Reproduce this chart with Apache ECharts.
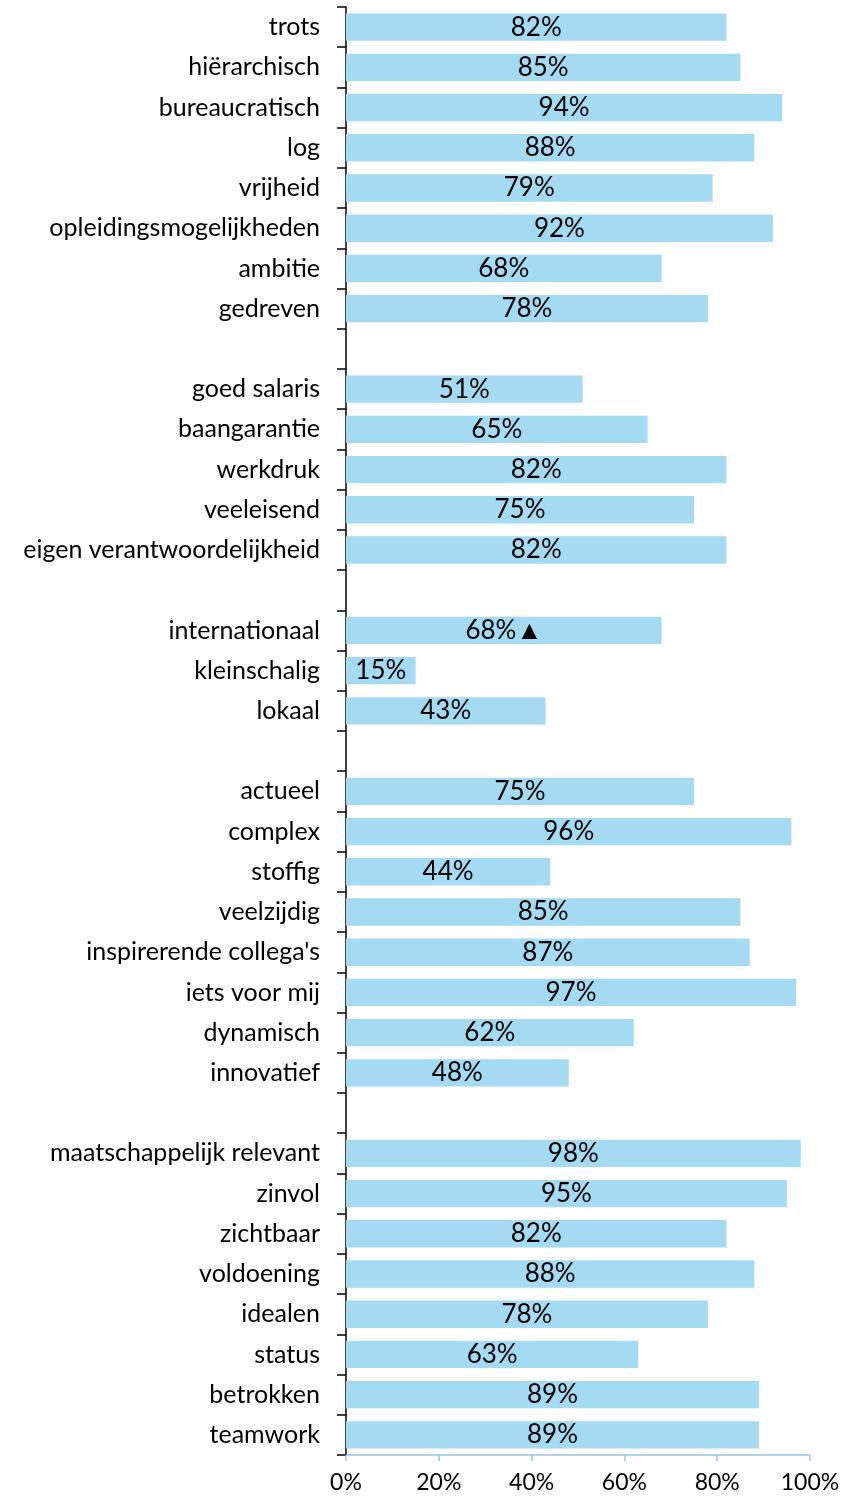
<!DOCTYPE html>
<html>
<head>
<meta charset="utf-8">
<script src="https://cdn.jsdelivr.net/npm/echarts@6/dist/echarts.min.js"></script>
<style>
  html, body { margin: 0; padding: 0; background: #fff; }
  #chartContainer { width: 846px; height: 1497px; }
</style>
</head>
<body>
<div id="chartContainer"></div>
<script>
// lege categorieen ('' ) zijn de witregels tussen de groepen
const categories = [
    'trots', 'hiërarchisch', 'bureaucratisch', 'log', 'vrijheid', 'opleidingsmogelijkheden', 'ambitie', 'gedreven',
    '',
    'goed salaris', 'baangarantie', 'werkdruk', 'veeleisend', 'eigen verantwoordelijkheid',
    '',
    'internationaal', 'kleinschalig', 'lokaal',
    '',
    'actueel', 'complex', 'stoffig', 'veelzijdig', "inspirerende collega's", 'iets voor mij', 'dynamisch', 'innovatief',
    '',
    'maatschappelijk relevant', 'zinvol', 'zichtbaar', 'voldoening', 'idealen', 'status', 'betrokken', 'teamwork'
];
const values = [
    82, 85, 94, 88, 79, 92, 68, 78,
    null,
    51, 65, 82, 75, 82,
    null,
    68, 15, 43,
    null,
    75, 96, 44, 85, 87, 97, 62, 48,
    null,
    98, 95, 82, 88, 78, 63, 89, 89
];
const markedUp = ['internationaal'];
const xTicks = [0, 20, 40, 60, 80, 100];

const fontName = 'Lato';
const chart = echarts.init(document.getElementById('chartContainer'), null, {renderer: 'canvas'});
const option = {
    animation: false,
    grid: {
        left: 346,
        right: 36,
        top: 7,
        bottom: 42,
        containLabel: false
    },
    xAxis: {
        type: 'value',
        min: xTicks[0],
        max: xTicks[xTicks.length - 1],
        interval: 20,
        splitLine: {show: false},
        axisLine: {show: true, lineStyle: {color: '#9cc2e5', width: 1.5}},
        axisTick: {show: true, length: 6, lineStyle: {color: '#9cc2e5', width: 1.5}},
        axisLabel: {
            formatter: '{value}%',
            color: '#000',
            fontSize: 23,
            fontFamily: fontName,
            margin: 16
        }
    },
    yAxis: {
        type: 'category',
        inverse: true,
        data: categories,
        axisLine: {show: true, lineStyle: {color: '#000', width: 1.5}},
        axisTick: {show: true, length: 9, lineStyle: {color: '#000', width: 1.5}},
        axisLabel: {
            color: '#000',
            fontSize: 25,
            fontFamily: fontName,
            margin: 26
        }
    },
    series: [
        {
            type: 'bar',
            data: values,
            barWidth: '68%',
            itemStyle: {
                color: '#a4daf2'
            },
            label: {
                show: true,
                position: 'inside',
                color: '#000',
                fontSize: 26,
                fontFamily: fontName,
                formatter: function (p) {
                    if (p.value == null) return '';
                    const mark = markedUp.indexOf(p.name) >= 0 ? '▲' : '';
                    return p.value + '%' + mark;
                }
            }
        }
    ]
};
chart.setOption(option);
</script>
</body>
</html>
